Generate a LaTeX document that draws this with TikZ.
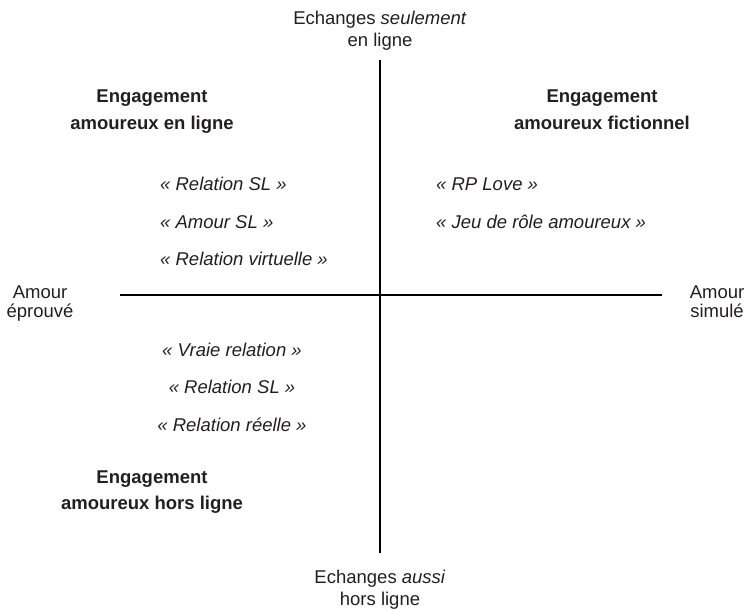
\documentclass[tikz,border=0pt]{standalone}
\usepackage{fontspec}
\setmainfont{Liberation Sans}
\definecolor{ink}{HTML}{231F20}
\newcommand\labfont{\fontsize{18.5}{22}\selectfont}
\tikzset{
  lbl/.style={font=\labfont, text=ink, anchor=base, inner sep=0pt},
  head/.style={lbl, font=\labfont\bfseries},
  item/.style={lbl, font=\labfont\itshape},
  itemL/.style={item, anchor=base west},
  axis/.style={draw=black, line width=1.8pt}
}
\begin{document}
\begin{tikzpicture}[x=1pt,y=-1pt]
\useasboundingbox (0,0) rectangle (751,610);
% axes
\coordinate (vtop) at (380,60);
\coordinate (vbot) at (380,553);
\coordinate (hleft) at (120,295);
\coordinate (hright) at (662,295);
\draw[axis] (vtop) -- (vbot);
\draw[axis] (hleft) -- (hright);
% axis labels
\node[lbl] (top1) at (380,25) {Echanges \textit{seulement}};
\node[lbl] (top2) at (380,46) {en ligne};
\node[lbl] (bot1) at (380,583) {Echanges \textit{aussi}};
\node[lbl] (bot2) at (380,605) {hors ligne};
\node[lbl] (left1) at (40,298) {Amour};
\node[lbl] (left2) at (40,317) {éprouvé};
\node[lbl] (right1) at (717,298) {Amour};
\node[lbl] (right2) at (717,317) {simulé};
% quadrant headings
\node[head] (tlh1) at (152,102) {Engagement};
\node[head] (tlh2) at (152,129) {amoureux en ligne};
\node[head] (trh1) at (602,102) {Engagement};
\node[head] (trh2) at (602,129) {amoureux fictionnel};
\node[head] (blh1) at (152,483) {Engagement};
\node[head] (blh2) at (152,509) {amoureux hors ligne};
% items
\node[itemL] (tl1) at (160,190) {« Relation SL »};
\node[itemL] (tl2) at (160,228) {« Amour SL »};
\node[itemL] (tl3) at (160,265) {« Relation virtuelle »};
\node[itemL] (tr1) at (436,190) {« RP Love »};
\node[itemL] (tr2) at (436,228) {« Jeu de rôle amoureux »};
\node[item] (bl1) at (232,356) {« Vraie relation »};
\node[item] (bl2) at (232,393) {« Relation SL »};
\node[item] (bl3) at (232,431) {« Relation réelle »};
\end{tikzpicture}
\end{document}
